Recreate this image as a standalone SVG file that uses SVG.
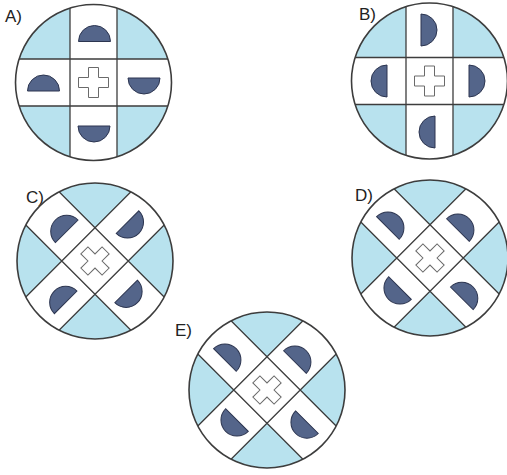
<svg xmlns="http://www.w3.org/2000/svg" xmlns:xlink="http://www.w3.org/1999/xlink" width="507" height="475" viewBox="0 0 507 475">
<style>
.bg{fill:#b8e2ee}
.band{fill:#ffffff}
.ln{stroke:#3d3d3d;stroke-width:1.3;fill:none}
.rim{fill:none;stroke:#3d3d3d;stroke-width:1.6}
.plus{fill:#ffffff;stroke:#6a6a6a;stroke-width:1}
.hd{fill:#54658a;stroke:#2c3550;stroke-width:1}
.lbl{font-family:"Liberation Sans",Arial,sans-serif;font-size:17px;fill:#222222}
</style>
<defs>
<clipPath id="cc"><circle cx="0" cy="0" r="78"/></clipPath>
<g id="base">
<circle class="bg" cx="0" cy="0" r="78"/>
<g clip-path="url(#cc)">
<rect class="band" x="-23.5" y="-80" width="47" height="160"/>
<rect class="band" x="-80" y="-23.5" width="160" height="47"/>
<path class="ln" d="M-23.5,-80V80M23.5,-80V80M-80,-23.5H80M-80,23.5H80"/>
</g>
<circle class="rim" cx="0" cy="0" r="78"/>
<path class="plus" d="M-5,-15H5V-5H15V5H5V15H-5V5H-15V-5H-5Z"/>
</g>
<path id="hd" class="hd" d="M-16,0A16,16 0 0 1 16,0Z"/>
</defs>

<g id="optA">
<text class="lbl" x="5" y="22">A)</text>
<g transform="translate(93.5,82.5)">
<use href="#base" xlink:href="#base"/>
<use href="#hd" xlink:href="#hd" transform="translate(1,-41)"/>
<use href="#hd" xlink:href="#hd" transform="translate(-50,8.5)"/>
<use href="#hd" xlink:href="#hd" transform="translate(50.5,-4.5) rotate(180)"/>
<use href="#hd" xlink:href="#hd" transform="translate(0.5,43.5) rotate(180)"/>
</g>
</g>

<g id="optB">
<text class="lbl" x="359" y="20">B)</text>
<g transform="translate(429.5,81)">
<use href="#base" xlink:href="#base"/>
<use href="#hd" xlink:href="#hd" transform="translate(-8.5,-51) rotate(90)"/>
<use href="#hd" xlink:href="#hd" transform="translate(-42.5,0) rotate(-90)"/>
<use href="#hd" xlink:href="#hd" transform="translate(39.5,0) rotate(90)"/>
<use href="#hd" xlink:href="#hd" transform="translate(5.5,51) rotate(-90)"/>
</g>
</g>

<g id="optC">
<text class="lbl" x="26" y="203">C)</text>
<g transform="translate(95,261) rotate(-45)">
<use href="#base" xlink:href="#base"/>
<use href="#hd" xlink:href="#hd" transform="translate(1,-41)"/>
<use href="#hd" xlink:href="#hd" transform="translate(-50,8.5)"/>
<use href="#hd" xlink:href="#hd" transform="translate(50.5,-4.5) rotate(180)"/>
<use href="#hd" xlink:href="#hd" transform="translate(0.5,43.5) rotate(180)"/>
</g>
</g>

<g id="optD">
<text class="lbl" x="355" y="201">D)</text>
<g transform="translate(430,258) rotate(-45)">
<use href="#base" xlink:href="#base"/>
<use href="#hd" xlink:href="#hd" transform="translate(-8.5,-51) rotate(90)"/>
<use href="#hd" xlink:href="#hd" transform="translate(-42.5,0) rotate(-90)"/>
<use href="#hd" xlink:href="#hd" transform="translate(39.5,0) rotate(90)"/>
<use href="#hd" xlink:href="#hd" transform="translate(-6,51) rotate(90)"/>
</g>
</g>

<g id="optE">
<text class="lbl" x="175" y="336">E)</text>
<g transform="translate(267,390) rotate(-45)">
<use href="#base" xlink:href="#base"/>
<use href="#hd" xlink:href="#hd" transform="translate(-8.5,-51) rotate(90)"/>
<use href="#hd" xlink:href="#hd" transform="translate(-42.5,0) rotate(-90)"/>
<use href="#hd" xlink:href="#hd" transform="translate(39.5,0) rotate(90)"/>
<use href="#hd" xlink:href="#hd" transform="translate(5.5,51) rotate(-90)"/>
</g>
</g>
</svg>
